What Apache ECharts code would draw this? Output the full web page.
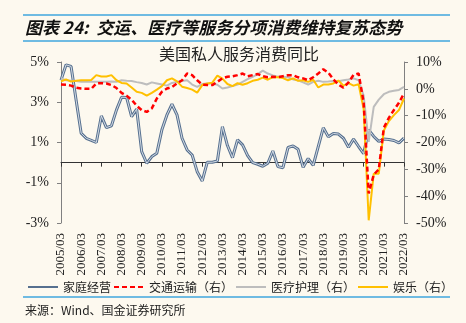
<!DOCTYPE html>
<html>
<head>
<meta charset="utf-8">
<script src="https://cdn.jsdelivr.net/npm/echarts@6/dist/echarts.min.js"></script>
<style>
html,body{margin:0;padding:0;background:#fdf9ef;}
#c{width:466px;height:323px;}
</style>
</head>
<body>
<div id="c"></div>
<script>
var categories = [
'2005/03','2005/06','2005/09','2005/12','2006/03','2006/06','2006/09','2006/12',
'2007/03','2007/06','2007/09','2007/12','2008/03','2008/06','2008/09','2008/12',
'2009/03','2009/06','2009/09','2009/12','2010/03','2010/06','2010/09','2010/12',
'2011/03','2011/06','2011/09','2011/12','2012/03','2012/06','2012/09','2012/12',
'2013/03','2013/06','2013/09','2013/12','2014/03','2014/06','2014/09','2014/12',
'2015/03','2015/06','2015/09','2015/12','2016/03','2016/06','2016/09','2016/12',
'2017/03','2017/06','2017/09','2017/12','2018/03','2018/06','2018/09','2018/12',
'2019/03','2019/06','2019/09','2019/12','2020/03','2020/06','2020/09','2020/12',
'2021/03','2021/06','2021/09','2021/12','2022/03'
];
var leftTicks = [-3, 5, 2];    // min, max, step (%)
var rightTicks = [-50, 10, 10]; // min, max, step (%)

// 家庭经营 (left axis, %)
var household = [4.1,4.86,4.78,3.1,1.46,1.21,1.11,1.0,2.32,1.74,
1.83,2.62,3.25,3.24,2.29,2.66,0.55,-0.03,0.3,0.47,
1.63,2.37,2.9,2.37,1.21,0.63,0.38,-0.45,-0.91,0.02,
0.02,0.08,1.79,0.85,0.25,1.13,0.88,0.35,0.0,-0.08,
-0.18,-0.03,0.58,-0.2,-0.25,0.75,0.83,0.66,-0.23,0.2,
-0.13,0.8,1.73,1.28,1.45,1.42,1.21,0.76,1.17,0.8,
0.45,1.63,1.3,1.06,1.17,1.15,1.1,0.98,1.22];
// 交通运输（右）
var transport = [1.6,1.5,1.2,0.4,0.1,0.0,0.0,2.0,2.1,2.0,
1.4,0.3,-1.5,-2.6,-4.0,-6.3,-7.9,-8.6,-7.3,-3.6,
-1.1,0.1,0.7,2.0,3.2,5.7,5.1,3.2,1.6,1.4,
1.4,2.6,3.9,4.5,4.7,5.1,5.7,4.7,5.1,5.5,
4.7,4.3,4.5,4.3,4.7,5.1,5.1,4.3,3.9,3.2,
4.3,5.7,7.3,6.0,3.5,1.6,0.4,2.4,5.2,5.7,
-5,-39,-32,-30,-14.5,-10.8,-7.9,-5.2,-1.7];
// 医疗护理（右）
var medical = [3.9,3.2,3.0,2.9,2.6,2.6,2.6,2.6,2.6,2.6,
2.7,2.6,3.2,3.0,2.9,2.5,2.2,1.6,2.4,2.0,
1.6,1.2,2.2,2.6,2.9,3.2,1.6,0.7,1.8,2.0,
2.0,1.5,0.1,0.5,1.0,1.6,2.6,3.6,4.5,5.5,
6.8,5.7,5.0,4.5,4.5,4.3,3.5,3.2,2.4,1.6,
2.6,3.0,2.6,2.7,2.9,2.8,3.2,3.5,3.9,3.2,
-2.5,-19.8,-6.7,-4.0,-2.0,-1.1,-0.7,-0.4,0.7];
// 娱乐（右）
var recreation = [2.8,3.5,2.7,3.0,3.2,3.2,3.3,5.1,4.6,4.6,
5.1,3.2,2.2,2.0,0.5,-1.1,-1.5,-2.5,-1.5,-0.3,
1.0,3.2,3.9,2.8,0.8,0.3,-0.3,-1.4,1.4,2.0,
2.3,4.9,3.8,1.8,1.0,2.1,1.5,2.1,3.0,3.4,
4.2,3.4,4.4,4.3,4.0,3.2,3.9,3.0,3.2,2.6,
3.4,0.5,1.6,1.6,2.0,3.1,1.2,2.1,1.2,1.7,
-7.5,-49,-31.6,-31.6,-15.5,-12,-9.8,-7.9,-3.6];

var names = ['家庭经营','交通运输（右）','医疗护理（右）','娱乐（右）'];
var titleText = '图表 24:  交运、医疗等服务分项消费维持复苏态势';
var subTitle = '美国私人服务消费同比';
var sourceText = '来源：Wind、国金证券研究所';

var CJK = '"Noto Sans CJK SC", sans-serif';
var SERIF = '"Liberation Serif", "Times New Roman", serif';

var chart = echarts.init(document.getElementById('c'), null, {renderer:'canvas'});
chart.setOption({
  backgroundColor: '#fdf9ef',
  animation: false,
  grid: {left: 61, right: 62, top: 62, bottom: 100},
  legend: {
    data: names,
    left: 27, top: 281, padding: 0,
    itemWidth: 30, itemHeight: 12, itemGap: 2,
    itemStyle: {opacity: 0, borderWidth: 0},
    lineStyle: {width: 2},
    textStyle: {fontFamily: CJK, fontSize: 12, color: '#222'}
  },
  xAxis: [{
    type: 'category', data: categories, boundaryGap: false,
    position: 'bottom',
    axisLine: {show: false, onZero: false},
    axisTick: {show: false},
    axisLabel: {interval: 3, rotate: 90, margin: 10, fontFamily: SERIF, fontSize: 13, color: '#222'}
  }, {
    type: 'category', data: categories, boundaryGap: false,
    position: 'bottom',
    axisLine: {show: true, onZero: true, onZeroAxisIndex: 0, lineStyle: {color: '#333', width: 1}},
    axisTick: {show: true, interval: 3, length: 4, lineStyle: {color: '#333'}},
    axisLabel: {show: false}
  }],
  yAxis: [{
    type: 'value', position: 'left',
    min: leftTicks[0], max: leftTicks[1], interval: leftTicks[2],
    splitLine: {show: false},
    axisLine: {show: true, lineStyle: {color: '#808080'}},
    axisTick: {show: true, length: 4, lineStyle: {color: '#808080'}},
    axisLabel: {formatter: '{value}%', margin: 12, fontFamily: SERIF, fontSize: 14, color: '#222'}
  }, {
    type: 'value', position: 'right',
    min: rightTicks[0], max: rightTicks[1], interval: rightTicks[2],
    splitLine: {show: false},
    axisLine: {show: true, lineStyle: {color: '#808080'}},
    axisTick: {show: true, length: 4, lineStyle: {color: '#808080'}},
    axisLabel: {formatter: '{value}%', margin: 12, fontFamily: SERIF, fontSize: 14, color: '#222'}
  }],
  series: [{
    name: names[0], type: 'line', xAxisIndex: 0, yAxisIndex: 0, data: household,
    symbol: 'none', lineStyle: {color: '#56708f', width: 3}, itemStyle: {color: '#56708f'}, z: 2
  }, {
    name: 'inner', type: 'line', xAxisIndex: 0, yAxisIndex: 0, data: household,
    symbol: 'none', lineStyle: {color: '#e3e8ee', width: 0.9}, z: 3, silent: true
  }, {
    name: names[2], type: 'line', xAxisIndex: 0, yAxisIndex: 1, data: medical,
    symbol: 'none', lineStyle: {color: '#bdbdbd', width: 2}, itemStyle: {color: '#bdbdbd'}, z: 4
  }, {
    name: names[3], type: 'line', xAxisIndex: 0, yAxisIndex: 1, data: recreation,
    symbol: 'none', lineStyle: {color: '#ffc000', width: 2}, itemStyle: {color: '#ffc000'}, z: 5
  }, {
    name: names[1], type: 'line', xAxisIndex: 0, yAxisIndex: 1, data: transport,
    symbol: 'none', lineStyle: {color: '#ff0000', width: 2.5, type: [5, 3]}, itemStyle: {color: '#ff0000'}, z: 6
  }],
  graphic: [
    {type: 'line', shape: {x1: 23, y1: 15, x2: 450, y2: 15}, style: {stroke: '#3fa6de', lineWidth: 1.5}},
    {type: 'text', x: 25, y: 28, style: {text: titleText, font: 'italic bold 17px ' + CJK, fill: '#111', textVerticalAlign: 'middle'}},
    {type: 'line', shape: {x1: 23, y1: 41, x2: 450, y2: 41}, style: {stroke: '#3fa6de', lineWidth: 1.5}},
    {type: 'text', x: 239, y: 54, style: {text: subTitle, font: '16px ' + CJK, fill: '#222', textAlign: 'center', textVerticalAlign: 'middle'}},
    {type: 'line', shape: {x1: 23, y1: 297, x2: 450, y2: 297}, style: {stroke: '#3fa6de', lineWidth: 1.5}},
    {type: 'text', x: 25, y: 310, style: {text: sourceText, font: '12px ' + CJK, fill: '#222', textVerticalAlign: 'middle'}}
  ]
});
</script>
</body>
</html>
